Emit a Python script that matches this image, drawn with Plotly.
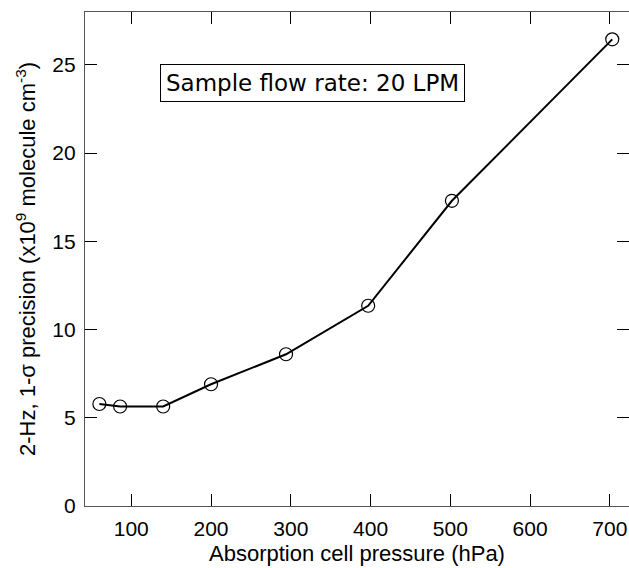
import plotly.graph_objects as go

pressure_hpa = [60, 86, 140, 200, 294, 397, 502, 703]
precision = [5.78, 5.64, 5.64, 6.9, 8.6, 11.35, 17.3, 26.45]
x_ticks = [100, 200, 300, 400, 500, 600, 700]
y_ticks = [0, 5, 10, 15, 20, 25]
annotation_text = "Sample flow rate: 20 LPM"

fig = go.Figure()
fig.add_trace(go.Scatter(
    x=pressure_hpa, y=precision, mode="lines+markers",
    line=dict(color="black", width=2),
    marker=dict(symbol="circle-open", size=13, color="black", line=dict(width=1.2, color="black")),
    showlegend=False,
))

axis_common = dict(
    showline=True, linecolor="#555", linewidth=1.3, mirror="ticks",
    ticks="inside", ticklen=12, tickwidth=1, tickcolor="black",
    showgrid=False, zeroline=False, automargin=False,
    tickfont=dict(family="Liberation Sans, Arial", size=21, color="black"),
)

fig.update_layout(
    width=629, height=568,
    margin=dict(l=85, r=0, t=12, b=62),
    plot_bgcolor="white", paper_bgcolor="white",
    xaxis=dict(range=[42, 724], tickvals=x_ticks, ticklabelstandoff=4, **axis_common,
               title=dict(text="Absorption cell pressure (hPa)", standoff=6,
                          font=dict(family="Liberation Sans, Arial", size=22, color="black"))),
    yaxis=dict(range=[0, 28], tickvals=y_ticks, ticklabelstandoff=4, **axis_common,
               title=dict(text="2-Hz, 1-σ precision (x10<sup>9</sup> molecule cm<sup>-3</sup>)", standoff=10,
                          font=dict(family="Liberation Sans, Arial", size=22, color="black"))),
    annotations=[dict(
        x=0.419, y=0.856, xref="paper", yref="paper", xanchor="center", yanchor="middle",
        text=annotation_text, showarrow=False,
        font=dict(family="DejaVu Sans", size=23, color="black"),
        bordercolor="black", borderwidth=1, borderpad=5, bgcolor="white",
    )],
)

fig.write_html("out.html", config={"displayModeBar": False},
               post_script="document.body.style.margin='0';document.body.style.overflow='hidden';")
